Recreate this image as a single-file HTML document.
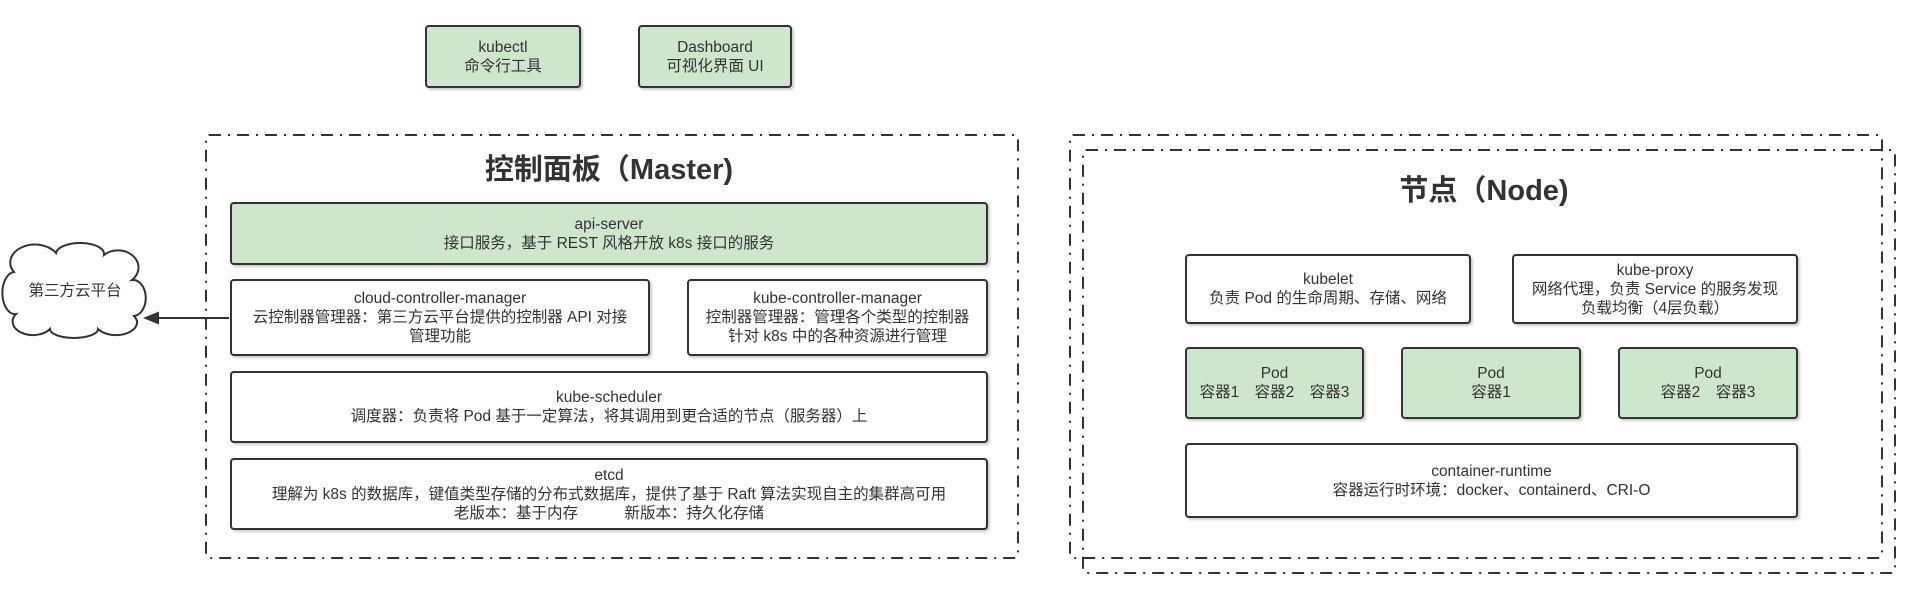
<!DOCTYPE html>
<html>
<head>
<meta charset="utf-8">
<style>
  html, body { margin:0; padding:0; background:#fff; }
  body { width:1907px; height:612px; position:relative; overflow:hidden;
         font-family:"Liberation Sans","Noto Sans CJK SC",sans-serif; color:#333; }
  .box { position:absolute; box-sizing:border-box; border:2px solid #333; border-radius:4px;
         background:#fff; display:flex; align-items:center; justify-content:center;
         text-align:center; font-size:15.5px; line-height:19px;
         box-shadow:2px 2px 2px rgba(0,0,0,0.2); white-space:nowrap; }
  .g { background:#cde6cc; }
  .title { position:absolute; font-weight:bold; font-size:29px; line-height:34px;
           white-space:nowrap; transform:translate(-50%,-50%); color:#333; }
  svg { position:absolute; left:0; top:0; }
  .cloudtxt { position:absolute; font-size:15.5px; line-height:19px; white-space:nowrap;
              transform:translate(-50%,-50%); }
</style>
</head>
<body>
<svg width="1907" height="612" viewBox="0 0 1907 612">
  <g fill="none" stroke="#333" stroke-width="2" stroke-dasharray="12 7 2 7">
    <rect x="206" y="135" width="812" height="423" rx="3"/>
    <rect x="1070" y="135" width="812" height="423" rx="3"/>
    <rect x="1083" y="150" width="812" height="423" rx="3"/>
  </g>
  <!-- cloud -->
  <path d="M 14 272
           A 22 16 0 0 1 56 253
           A 24 11 0 0 1 104 255
           A 18 15 0 0 1 132 280
           A 12 17 0 0 1 134 316
           A 20 12 0 0 1 98 329
           A 24 9 0 0 1 50 329
           A 18 12 0 0 1 16 314
           A 12 20 0 0 1 14 272 Z"
        fill="#fff" stroke="#333" stroke-width="2"/>
  <!-- arrow -->
  <line x1="229" y1="318" x2="156" y2="318" stroke="#333" stroke-width="2"/>
  <polygon points="143,318 159,311.5 159,324.5" fill="#333"/>
</svg>

<div class="cloudtxt" style="left:75px; top:291px;">第三方云平台</div>

<div class="box g" style="left:425px; top:25px; width:156px; height:63px;">kubectl<br>命令行工具</div>
<div class="box g" style="left:638px; top:25px; width:154px; height:63px;">Dashboard<br>可视化界面 UI</div>

<div class="title" style="left:609px; top:170px;">控制面板（Master)</div>

<div class="box g" style="left:230px; top:202px; width:758px; height:63px;">api-server<br>接口服务，基于 REST 风格开放 k8s 接口的服务</div>
<div class="box" style="left:230px; top:279px; width:420px; height:77px;">cloud-controller-manager<br>云控制器管理器：第三方云平台提供的控制器 API 对接<br>管理功能</div>
<div class="box" style="left:687px; top:279px; width:301px; height:77px;">kube-controller-manager<br>控制器管理器：管理各个类型的控制器<br>针对 k8s 中的各种资源进行管理</div>
<div class="box" style="left:230px; top:371px; width:758px; height:72px;">kube-scheduler<br>调度器：负责将 Pod 基于一定算法，将其调用到更合适的节点（服务器）上</div>
<div class="box" style="left:230px; top:458px; width:758px; height:72px;">etcd<br>理解为 k8s 的数据库，键值类型存储的分布式数据库，提供了基于 Raft 算法实现自主的集群高可用<br>老版本：基于内存　　　新版本：持久化存储</div>

<div class="title" style="left:1484px; top:191px;">节点（Node)</div>

<div class="box" style="left:1185px; top:254px; width:286px; height:70px;">kubelet<br>负责 Pod 的生命周期、存储、网络</div>
<div class="box" style="left:1512px; top:254px; width:286px; height:70px;">kube-proxy<br>网络代理，负责 Service 的服务发现<br>负载均衡（4层负载）</div>

<div class="box g" style="left:1185px; top:347px; width:179px; height:72px;">Pod<br>容器1　容器2　容器3</div>
<div class="box g" style="left:1401px; top:347px; width:180px; height:72px;">Pod<br>容器1</div>
<div class="box g" style="left:1618px; top:347px; width:180px; height:72px;">Pod<br>容器2　容器3</div>

<div class="box" style="left:1185px; top:443px; width:613px; height:75px;">container-runtime<br>容器运行时环境：docker、containerd、CRI-O</div>
</body>
</html>
